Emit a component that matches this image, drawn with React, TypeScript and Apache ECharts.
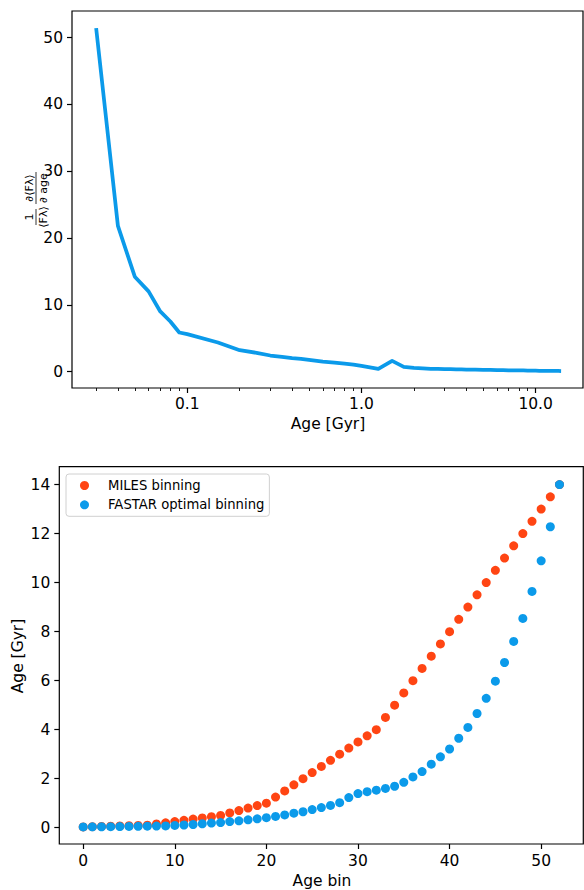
import React, { useEffect, useRef } from "react";
import * as echarts from "echarts";

// Age grid of the SSP models (Gyr); also the MILES binning, one age per bin
const ageGrid = [
  0.03, 0.04, 0.05, 0.06, 0.07, 0.08, 0.09, 0.1,
  0.15, 0.2, 0.25, 0.3, 0.35, 0.4, 0.45, 0.5,
  0.6, 0.7, 0.8, 0.9, 1.0,
  1.25, 1.5, 1.75, 2.0, 2.25, 2.5, 2.75, 3.0, 3.25, 3.5, 3.75, 4.0,
  4.5, 5.0, 5.5, 6.0, 6.5, 7.0, 7.5, 8.0, 8.5, 9.0, 9.5, 10.0,
  10.5, 11.0, 11.5, 12.0, 12.5, 13.0, 13.5, 14.0,
];

// Relative flux sensitivity to age, (1/<F>) d<F>/d age, at each grid age
const sensitivity = [
  51.4, 21.8, 14.2, 12.0, 9.0, 7.5, 5.85, 5.6,
  4.35, 3.2, 2.8, 2.4, 2.2, 2.0, 1.9, 1.75,
  1.5, 1.35, 1.2, 1.05, 0.85,
  0.4, 1.6, 0.7, 0.55, 0.48, 0.42, 0.4, 0.37, 0.35, 0.33, 0.31, 0.3,
  0.28, 0.26, 0.24, 0.22, 0.2, 0.19, 0.18, 0.17, 0.16, 0.15, 0.14, 0.13,
  0.12, 0.11, 0.11, 0.1, 0.1, 0.09, 0.09, 0.08,
];

// Age assigned to each bin (Gyr)
const milesBinning = [
  0.03, 0.04, 0.05, 0.06, 0.07, 0.08, 0.09, 0.1,
  0.15, 0.2, 0.25, 0.3, 0.35, 0.4, 0.45, 0.5,
  0.6, 0.7, 0.8, 0.9, 1.0,
  1.25, 1.5, 1.75, 2.0, 2.25, 2.5, 2.75, 3.0, 3.25, 3.5, 3.75, 4.0,
  4.5, 5.0, 5.5, 6.0, 6.5, 7.0, 7.5, 8.0, 8.5, 9.0, 9.5, 10.0,
  10.5, 11.0, 11.5, 12.0, 12.5, 13.0, 13.5, 14.0,
];

const fastarBinning = [
  0.03, 0.034, 0.038, 0.042, 0.046, 0.05, 0.055, 0.06, 0.066, 0.073,
  0.09, 0.11, 0.13, 0.16, 0.19, 0.21, 0.25, 0.28, 0.32, 0.36,
  0.41, 0.46, 0.52, 0.59, 0.65, 0.74, 0.82, 0.91, 1.02, 1.23,
  1.39, 1.47, 1.53, 1.6, 1.69, 1.85, 2.07, 2.29, 2.59, 2.89,
  3.21, 3.65, 4.09, 4.66, 5.28, 5.98, 6.74, 7.6, 8.54, 9.64,
  10.89, 12.28, 14.0,
];

// Tick positions
const ageMajorTicks = [0.1, 1, 10];
const ageMinorTicks = [
  0.03, 0.04, 0.05, 0.06, 0.07, 0.08, 0.09,
  0.2, 0.3, 0.4, 0.5, 0.6, 0.7, 0.8, 0.9,
  2, 3, 4, 5, 6, 7, 8, 9,
];
const sensitivityTicks = [0, 10, 20, 30, 40, 50];
const binTicks = [0, 10, 20, 30, 40, 50];
const binAgeTicks = [0, 2, 4, 6, 8, 10, 12, 14];

const seriesNames = ["MILES binning", "FASTAR optimal binning"];

const FONT = "DejaVu Sans";
const BLUE = "#0b9aea";
const ORANGE = "#ff4513";
const TICK_FONT = 15.5;

const hiddenLine = { show: false, onZero: false };

const majorTick = (values: number[]) => ({
  show: true,
  length: 5,
  inside: false,
  customValues: values,
  lineStyle: { color: "#000", width: 1.2 },
});

export default function App() {
  const ref = useRef<HTMLDivElement>(null);

  useEffect(() => {
    if (!ref.current) return;
    const chart = echarts.init(ref.current, undefined, { renderer: "svg" });

    const labelStyle = (values: number[], margin: number, formatter?: any) => ({
      show: true,
      customValues: values,
      color: "#000",
      fontSize: TICK_FONT,
      fontFamily: FONT,
      margin,
      ...(formatter ? { formatter } : {}),
    });

    const logMin = 0.0218;
    const logMax = 18.7;

    const option: any = {
      animation: false,
      textStyle: { fontFamily: FONT },
      grid: [
        {
          left: 72, top: 11, width: 511, height: 377,
          show: true, borderColor: "#000", borderWidth: 1.2,
          backgroundColor: "transparent", containLabel: false,
        },
        {
          left: 59.3, top: 466.7, width: 524, height: 377.3,
          show: true, borderColor: "#000", borderWidth: 1.2,
          backgroundColor: "transparent", containLabel: false,
        },
      ],
      xAxis: [
        {
          gridIndex: 0, type: "log", logBase: 10, min: logMin, max: logMax,
          position: "bottom",
          axisLine: hiddenLine, splitLine: { show: false },
          axisTick: majorTick(ageMajorTicks),
          axisLabel: labelStyle(ageMajorTicks, 8, (v: number) => Number(v).toFixed(1)),
        },
        {
          gridIndex: 0, type: "log", logBase: 10, min: logMin, max: logMax,
          position: "bottom",
          axisLine: hiddenLine, splitLine: { show: false },
          axisTick: {
            show: true, length: 3, inside: false, customValues: ageMinorTicks,
            lineStyle: { color: "#000", width: 0.9 },
          },
          axisLabel: { show: false },
        },
        {
          gridIndex: 1, type: "value", min: -2.61, max: 54.6,
          position: "bottom",
          axisLine: hiddenLine, splitLine: { show: false },
          axisTick: majorTick(binTicks),
          axisLabel: labelStyle(binTicks, 9),
        },
      ],
      yAxis: [
        {
          gridIndex: 0, type: "value", min: -2.46, max: 53.97,
          position: "left",
          axisLine: hiddenLine, splitLine: { show: false },
          axisTick: majorTick(sensitivityTicks),
          axisLabel: labelStyle(sensitivityTicks, 9),
        },
        {
          gridIndex: 1, type: "value", min: -0.666, max: 14.73,
          position: "left",
          axisLine: hiddenLine, splitLine: { show: false },
          axisTick: majorTick(binAgeTicks),
          axisLabel: labelStyle(binAgeTicks, 9),
        },
      ],
      legend: {
        data: seriesNames,
        orient: "vertical",
        left: 66,
        top: 474,
        padding: [3, 5, 3, 14],
        itemGap: 2.3,
        itemWidth: 9,
        itemHeight: 9,
        icon: "circle",
        backgroundColor: "rgba(255,255,255,0.8)",
        borderColor: "#d0d0d0",
        borderWidth: 1,
        borderRadius: 3,
        textStyle: {
          fontSize: 13.2, fontFamily: FONT, color: "#000", lineHeight: 17,
          padding: [0, 0, 0, 14],
        },
      },
      series: [
        {
          type: "line",
          xAxisIndex: 0,
          yAxisIndex: 0,
          data: ageGrid.map((a, i) => [a, sensitivity[i]]),
          showSymbol: false,
          symbol: "none",
          lineStyle: { color: BLUE, width: 3.75, join: "round", cap: "butt" },
          itemStyle: { color: BLUE },
        },
        {
          name: seriesNames[0],
          type: "scatter",
          xAxisIndex: 2,
          yAxisIndex: 1,
          data: milesBinning.map((v, i) => [i, v]),
          symbolSize: 9,
          itemStyle: { color: ORANGE, opacity: 1 },
        },
        {
          name: seriesNames[1],
          type: "scatter",
          xAxisIndex: 2,
          yAxisIndex: 1,
          data: fastarBinning.map((v, i) => [i, v]),
          symbolSize: 9,
          itemStyle: { color: BLUE, opacity: 1 },
        },
      ],
      graphic: [
        {
          type: "text", x: 328, y: 424,
          style: { text: "Age [Gyr]", fontSize: TICK_FONT, fontFamily: FONT, fill: "#000", align: "center", verticalAlign: "middle" },
        },
        {
          type: "text", x: 322, y: 881,
          style: { text: "Age bin", fontSize: TICK_FONT, fontFamily: FONT, fill: "#000", align: "center", verticalAlign: "middle" },
        },
        {
          type: "text", x: 17.5, y: 656, rotation: Math.PI / 2,
          style: { text: "Age [Gyr]", fontSize: TICK_FONT, fontFamily: FONT, fill: "#000", align: "center", verticalAlign: "middle" },
        },
        {
          // (1/<F>) d<F>/d age, set as two stacked fractions, read bottom to top
          type: "group", x: 36, y: 200, rotation: Math.PI / 2,
          children: [
            { type: "text", x: -17, y: -1.5, style: { text: "1", fontSize: 11, fontFamily: FONT, fill: "#000", align: "center", verticalAlign: "bottom" } },
            { type: "line", shape: { x1: -25, y1: 0, x2: -9, y2: 0 }, style: { stroke: "#000", lineWidth: 0.8 } },
            { type: "text", x: -17, y: 1.5, style: { text: "⟨Fλ⟩", fontSize: 11, fontFamily: FONT, fill: "#000", align: "center", verticalAlign: "top" } },
            { type: "text", x: 12, y: -1.5, style: { text: "∂⟨Fλ⟩", fontSize: 11, fontFamily: FONT, fill: "#000", align: "center", verticalAlign: "bottom" } },
            { type: "line", shape: { x1: -4, y1: 0, x2: 28, y2: 0 }, style: { stroke: "#000", lineWidth: 0.8 } },
            { type: "text", x: 12, y: 1.5, style: { text: "∂ age", fontSize: 11, fontFamily: FONT, fill: "#000", align: "center", verticalAlign: "top" } },
          ],
        },
      ],
    };

    chart.setOption(option);
    return () => chart.dispose();
  }, []);

  return (
    <div
      ref={ref}
      style={{ position: "absolute", left: 0, top: 0, width: 584, height: 890, background: "#fff" }}
    />
  );
}
